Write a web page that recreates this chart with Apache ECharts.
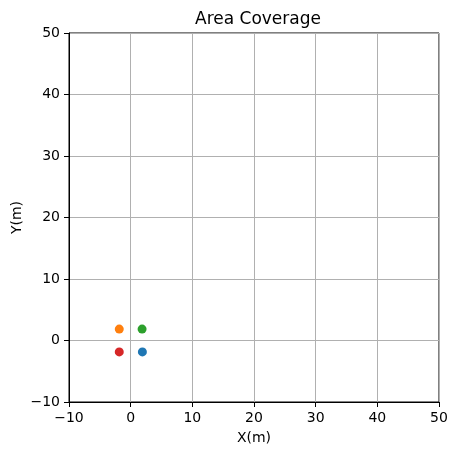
<!DOCTYPE html>
<html>
<head>
<meta charset="utf-8">
<script src="https://cdn.jsdelivr.net/npm/echarts@6/dist/echarts.min.js"></script>
<style>
  html, body { margin: 0; padding: 0; background: #fff; }
  #chart { width: 456px; height: 455px; }
</style>
</head>
<body>
<div id="chart"></div>
<script>
// point positions (metres), one array per series
const seriesNames = ['p1', 'p2', 'p3', 'p4']
const seriesColors = ['#1f77b4', '#ff7f0e', '#2ca02c', '#d62728']
const pointX = [1.9, -1.85, 1.85, -1.85]
const pointY = [-1.85, 1.85, 1.85, -1.85]
const xTicks = [-10, 0, 10, 20, 30, 40, 50]
const yTicks = [-10, 0, 10, 20, 30, 40, 50]

const font = 'DejaVu Sans'
const chart = echarts.init(document.getElementById('chart'))

const series = seriesNames.map((name, i) => ({
  name: name,
  type: 'scatter',
  data: [[pointX[i], pointY[i]]],
  symbolSize: 9,
  itemStyle: { color: seriesColors[i], opacity: 1 },
  z: 5 + i
}))

const axisCommon = {
  type: 'value',
  interval: 10,
  axisLine: { show: true, onZero: false, lineStyle: { color: '#000', width: 1 } },
  axisTick: { show: true, length: 5, inside: false, lineStyle: { color: '#000', width: 1 } },
  axisLabel: {
    color: '#000', fontFamily: font, fontSize: 14, margin: 9,
    formatter: v => String(v).replace('-', '\u2212')
  },
  splitLine: { show: true, lineStyle: { color: '#b0b0b0', width: 1 } },
  nameLocation: 'middle',
  nameMoveOverlap: false,
  nameTextStyle: { color: '#000', fontFamily: font, fontSize: 14 }
}

chart.setOption({
  animation: false,
  title: {
    text: 'Area Coverage',
    left: 253,
    top: 6,
    textAlign: 'center',
    textStyle: { color: '#000', fontFamily: font, fontSize: 17, fontWeight: 'normal' }
  },
  grid: {
    left: 69,
    right: 17,
    top: 33,
    bottom: 53,
    containLabel: false,
    outerBoundsMode: 'none',
    show: true,
    borderColor: '#000',
    borderWidth: 1
  },
  xAxis: Object.assign({}, axisCommon, {
    min: xTicks[0],
    max: xTicks[xTicks.length - 1],
    name: 'X(m)',
    nameGap: 29
  }),
  yAxis: Object.assign({}, axisCommon, {
    min: yTicks[0],
    max: yTicks[yTicks.length - 1],
    name: 'Y(m)',
    nameGap: 45
  }),
  series: series
})
</script>
</body>
</html>
